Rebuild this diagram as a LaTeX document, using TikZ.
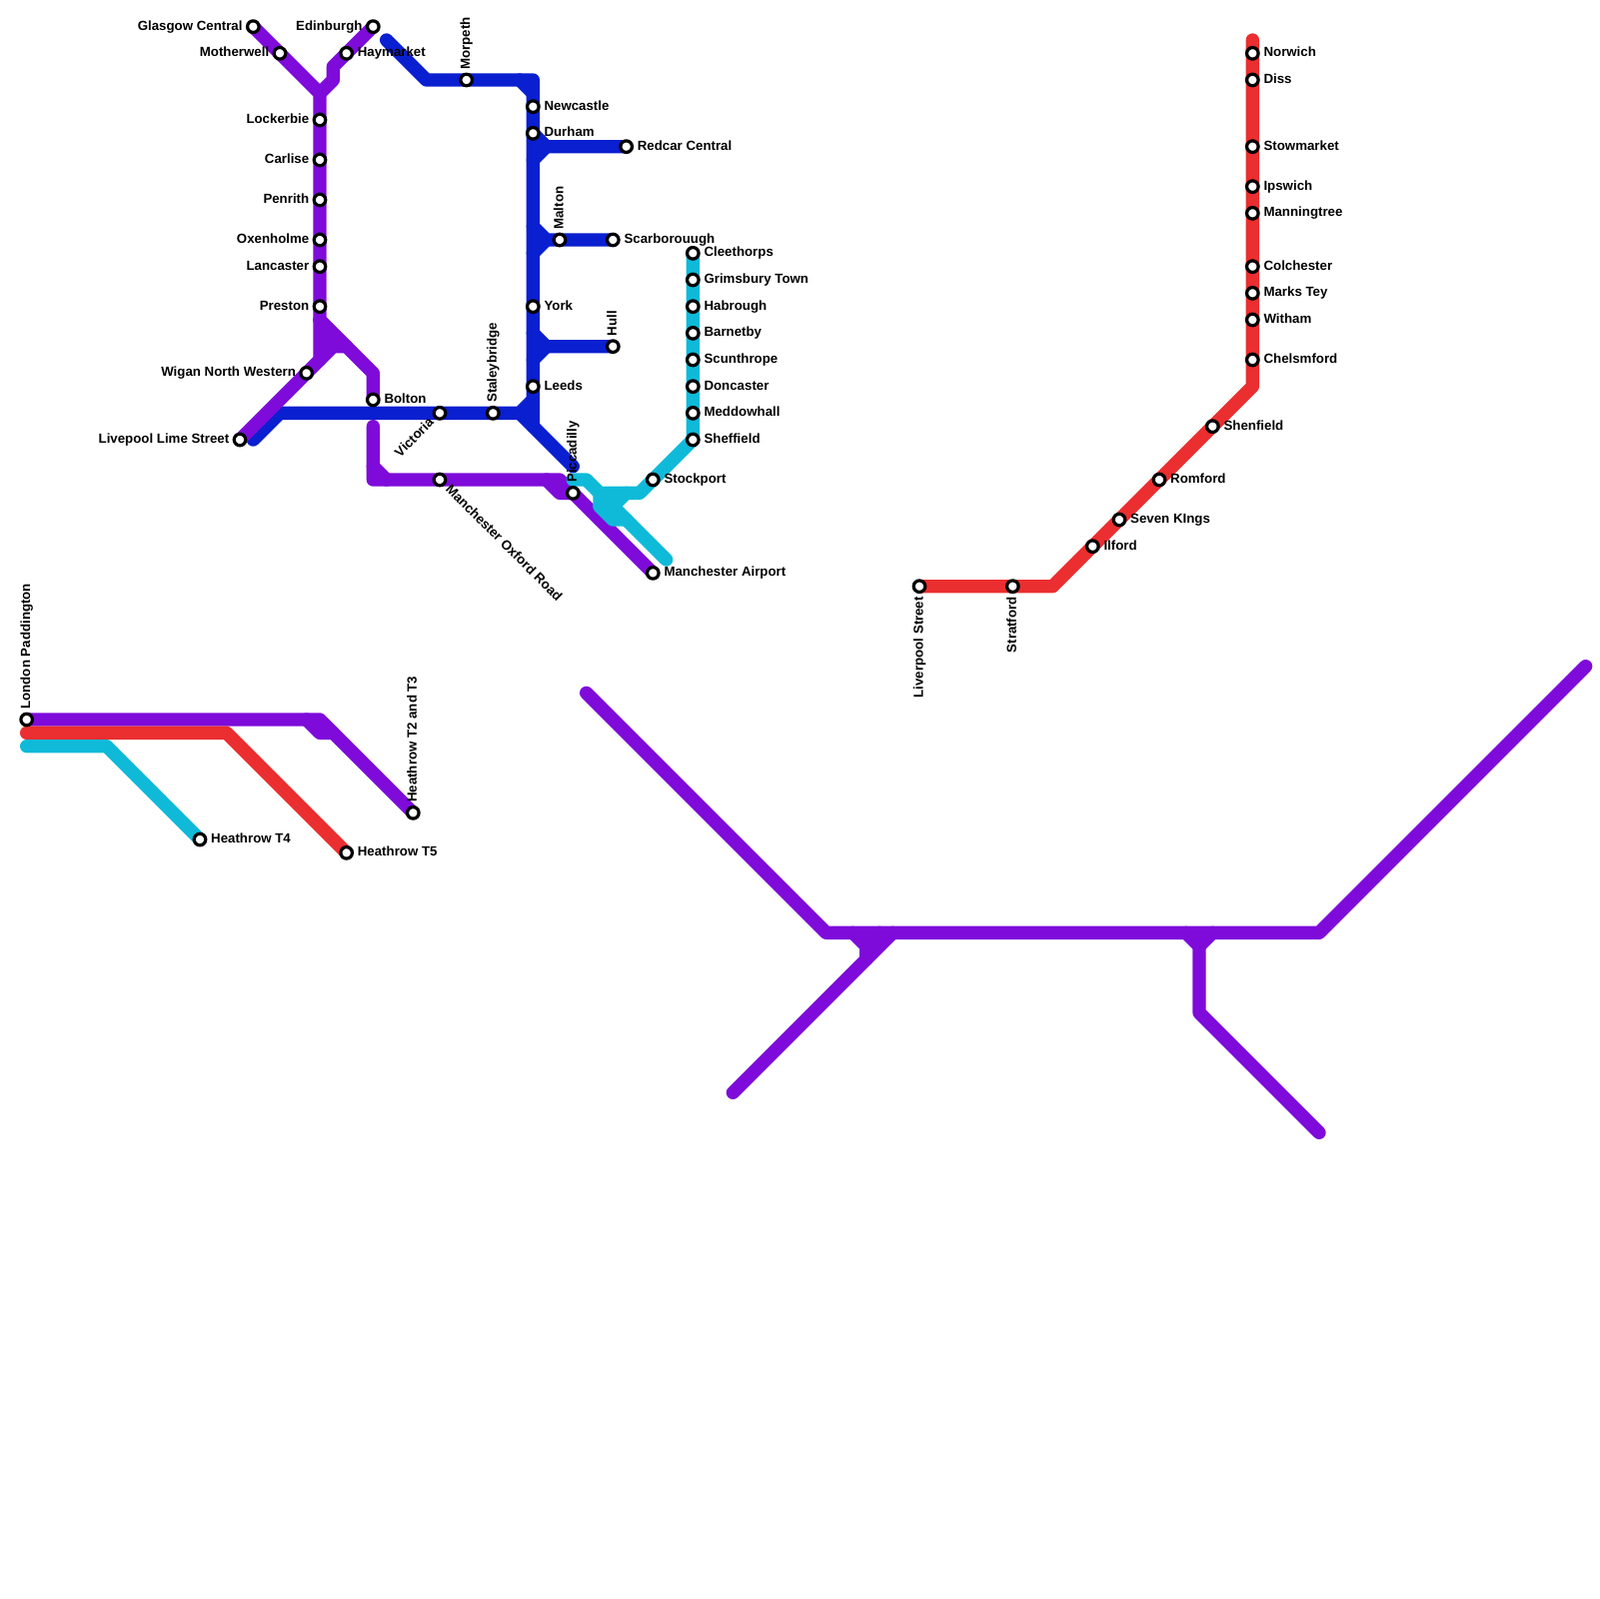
\documentclass[tikz,border=0pt]{standalone}
\usepackage{fontspec}
\setmainfont{Liberation Sans}
\usepackage{xcolor}
\usetikzlibrary{backgrounds}
\definecolor{linepurple}{RGB}{126,11,218}
\definecolor{lineblue}{RGB}{10,31,207}
\definecolor{linered}{RGB}{235,46,48}
\definecolor{linecyan}{RGB}{15,186,217}
\tikzset{
  station/.style={draw=black,fill=white,circle,line width=0.72mm,minimum size=2.6mm,inner sep=0pt,outer sep=0pt},
  stext/.style={font=\fontsize{8.5}{10}\bfseries\selectfont,inner sep=1.15mm,text height=2.1mm,text depth=0.5mm,text=black},
  right label/.style={stext,anchor=west},
  left label/.style={stext,anchor=east,xshift=0.1mm},
  up label/.style={stext,rotate=90,anchor=west,inner sep=1mm},
  down label/.style={stext,rotate=90,anchor=east,inner sep=1mm},
  track/.style={line width=3mm,line cap=round,line join=round},
  purple track/.style={track,linepurple},
  blue track/.style={track,lineblue},
  red track/.style={track,linered},
  cyan track/.style={track,linecyan}
}
\begin{document}
\begin{tikzpicture}[x=3mm,y=-3mm]
\useasboundingbox (0,0) rectangle (120,120);
% north west
\node[station,label={[left label]left:Glasgow Central}] (glasgow) at (19,2) {};
\node[station,label={[left label]left:Motherwell}] (motherwell) at (21,4) {};
\node[station,label={[left label]left:Edinburgh}] (edinburgh) at (28,2) {};
\node[station,label={[right label]right:Haymarket}] (haymarket) at (26,4) {};
\node[station,label={[left label]left:Lockerbie}] (lockerbie) at (24,9) {};
\node[station,label={[left label]left:Carlise}] (carlise) at (24,12) {};
\node[station,label={[left label]left:Penrith}] (penrith) at (24,15) {};
\node[station,label={[left label]left:Oxenholme}] (oxenholme) at (24,18) {};
\node[station,label={[left label]left:Lancaster}] (lancaster) at (24,20) {};
\node[station,label={[left label]left:Preston}] (preston) at (24,23) {};
\node[station,label={[left label]left:Wigan North Western}] (wigan) at (23,28) {};
\node[station,label={[left label]left:Livepool Lime Street}] (limestreet) at (18,33) {};
\node[station,label={[right label]right:Bolton}] (bolton) at (28,30) {};
% north east
\node[station,label={[up label]above:Morpeth}] (morpeth) at (35,6) {};
\node[station,label={[right label]right:Newcastle}] (newcastle) at (40,8) {};
\node[station,label={[right label]right:Durham}] (durham) at (40,10) {};
\node[station,label={[right label]right:Redcar Central}] (redcar) at (47,11) {};
\node[station,label={[up label]above:Malton}] (malton) at (42,18) {};
\node[station,label={[right label]right:Scarborouugh}] (scarborough) at (46,18) {};
\node[station,label={[right label]right:York}] (york) at (40,23) {};
\node[station,label={[up label]above:Hull}] (hull) at (46,26) {};
\node[station,label={[right label]right:Leeds}] (leeds) at (40,29) {};
\node[station,label={[stext,rotate=45,anchor=east]225:Victoria}] (victoria) at (33,31) {};
\node[station,label={[up label]above:Staleybridge}] (staleybridge) at (37,31) {};
% manchester
\node[station,label={[stext,rotate=-45,anchor=west]-45:Manchester Oxford Road}] (oxfordroad) at (33,36) {};
\node[station,label={[up label]above:Piccadilly}] (piccadilly) at (43,37) {};
\node[station,label={[right label]right:Manchester Airport}] (airport) at (49,43) {};
\node[station,label={[right label]right:Stockport}] (stockport) at (49,36) {};
\node[station,label={[right label]right:Sheffield}] (sheffield) at (52,33) {};
\node[station,label={[right label]right:Meddowhall}] (meadowhall) at (52,31) {};
\node[station,label={[right label]right:Doncaster}] (doncaster) at (52,29) {};
\node[station,label={[right label]right:Scunthrope}] (scunthorpe) at (52,27) {};
\node[station,label={[right label]right:Barnetby}] (barnetby) at (52,25) {};
\node[station,label={[right label]right:Habrough}] (habrough) at (52,23) {};
\node[station,label={[right label]right:Grimsbury Town}] (grimsby) at (52,21) {};
\node[station,label={[right label]right:Cleethorps}] (cleethorpes) at (52,19) {};
% heathrow
\node[station,label={[up label]above:London Paddington}] (paddington) at (2,54) {};
\node[station,label={[right label]right:Heathrow T4}] (tfour) at (15,63) {};
\node[station,label={[right label]right:Heathrow T5}] (tfive) at (26,64) {};
\node[station,label={[up label]above:Heathrow T2 and T3}] (ttwo) at (31,61) {};
% east
\node[station,label={[down label]below:Liverpool Street}] (liverpoolst) at (69,44) {};
\node[station,label={[down label]below:Stratford}] (stratford) at (76,44) {};
\node[station,label={[right label]right:Ilford}] (ilford) at (82,41) {};
\node[station,label={[right label]right:Seven KIngs}] (sevenkings) at (84,39) {};
\node[station,label={[right label]right:Romford}] (romford) at (87,36) {};
\node[station,label={[right label]right:Shenfield}] (shenfield) at (91,32) {};
\node[station,label={[right label]right:Chelsmford}] (chelmsford) at (94,27) {};
\node[station,label={[right label]right:Witham}] (witham) at (94,24) {};
\node[station,label={[right label]right:Marks Tey}] (markstey) at (94,22) {};
\node[station,label={[right label]right:Colchester}] (colchester) at (94,20) {};
\node[station,label={[right label]right:Manningtree}] (manningtree) at (94,16) {};
\node[station,label={[right label]right:Ipswich}] (ipswich) at (94,14) {};
\node[station,label={[right label]right:Stowmarket}] (stowmarket) at (94,11) {};
\node[station,label={[right label]right:Diss}] (diss) at (94,6) {};
\node[station,label={[right label]right:Norwich}] (norwich) at (94,4) {};
% bends
\coordinate (pn-a) at (24,7);
\coordinate (pn-b) at (25,6);
\coordinate (pn-c) at (25,5);
\coordinate (pn-d) at (24,27);
\coordinate (pn-e) at (24,24);
\coordinate (pn-f) at (28,28);
\coordinate (pn-g) at (25,26);
\coordinate (pn-h) at (26,26);
\coordinate (pm-a) at (28,32);
\coordinate (pm-b) at (28,36);
\coordinate (pm-c) at (42,36);
\coordinate (pm-d) at (28,35);
\coordinate (pm-e) at (29,36);
\coordinate (pm-f) at (41,36);
\coordinate (pm-g) at (42,37);
\coordinate (bn-a) at (29,3);
\coordinate (bn-b) at (32,6);
\coordinate (bn-c) at (39,6);
\coordinate (bn-d) at (40,6);
\coordinate (bn-e) at (40,7);
\coordinate (bn-f) at (40,30);
\coordinate (bn-g) at (40,32);
\coordinate (br-a) at (41,11);
\coordinate (br-b) at (40,12);
\coordinate (br-c) at (40,17);
\coordinate (br-d) at (41,18);
\coordinate (br-e) at (40,19);
\coordinate (br-f) at (40,25);
\coordinate (br-g) at (41,26);
\coordinate (br-h) at (40,27);
\coordinate (bs-a) at (19,33);
\coordinate (bs-b) at (21,31);
\coordinate (bs-c) at (39,31);
\coordinate (bs-d) at (43,35);
\coordinate (cy-a) at (48,37);
\coordinate (cy-b) at (47,37);
\coordinate (cy-c) at (45,37);
\coordinate (cy-d) at (44,36);
\coordinate (cy-e) at (43,36);
\coordinate (cy-f) at (45,38);
\coordinate (cy-g) at (46,39);
\coordinate (cy-h) at (47,39);
\coordinate (cy-i) at (46,38);
\coordinate (cy-j) at (50,42);
\coordinate (hp-a) at (24,54);
\coordinate (hp-b) at (23,54);
\coordinate (hp-c) at (24,55);
\coordinate (hp-d) at (25,55);
\coordinate (hr-a) at (2,55);
\coordinate (hr-b) at (17,55);
\coordinate (hc-a) at (2,56);
\coordinate (hc-b) at (8,56);
\coordinate (rd-a) at (94,3);
\coordinate (rd-b) at (94,29);
\coordinate (rd-c) at (79,44);
\coordinate (bp-a) at (44,52);
\coordinate (bp-b) at (62,70);
\coordinate (bp-c) at (64,70);
\coordinate (bp-d) at (65,71);
\coordinate (bp-e) at (65,72);
\coordinate (bp-f) at (55,82);
\coordinate (bp-g) at (67,70);
\coordinate (bp-h) at (66,70);
\coordinate (bp-i) at (89,70);
\coordinate (bp-j) at (90,71);
\coordinate (bp-k) at (91,70);
\coordinate (bp-l) at (99,70);
\coordinate (bp-m) at (119,50);
\coordinate (bp-n) at (90,76);
\coordinate (bp-o) at (99,85);
\begin{pgfonlayer}{background}
% blue
\draw[blue track] (bn-a) -- (bn-b) -- (morpeth.center) -- (bn-c) -- (bn-d) -- (bn-e) -- (newcastle.center) -- (durham.center) -- (york.center) -- (leeds.center) -- (bn-g);
\draw[blue track] (bn-c) -- (bn-e);
\draw[blue track] (durham.center) -- (br-a) -- (redcar.center);
\draw[blue track] (br-b) -- (br-a);
\draw[blue track] (br-c) -- (br-d) -- (malton.center) -- (scarborough.center);
\draw[blue track] (br-e) -- (br-d);
\draw[blue track] (br-f) -- (br-g) -- (hull.center);
\draw[blue track] (br-h) -- (br-g);
\draw[blue track] (bs-a) -- (bs-b) -- (victoria.center) -- (staleybridge.center) -- (bs-c) -- (bn-f);
\draw[blue track] (bs-c) -- (bs-d);
% purple
\draw[purple track] (glasgow.center) -- (motherwell.center) -- (pn-a) -- (lockerbie.center) -- (carlise.center) -- (penrith.center) -- (oxenholme.center) -- (lancaster.center) -- (preston.center) -- (pn-d);
\draw[purple track] (edinburgh.center) -- (haymarket.center) -- (pn-c) -- (pn-b) -- (pn-a);
\draw[purple track] (pn-e) -- (pn-f) -- (bolton.center);
\draw[purple track] (pn-e) -- (pn-g);
\draw[purple track] (limestreet.center) -- (wigan.center) -- (pn-g) -- (pn-h);
\draw[purple track] (pm-a) -- (pm-b) -- (oxfordroad.center) -- (pm-c) -- (piccadilly.center) -- (airport.center);
\draw[purple track] (pm-d) -- (pm-e);
\draw[purple track] (pm-f) -- (pm-g) -- (piccadilly.center);
\draw[purple track] (paddington.center) -- (hp-a) -- (ttwo.center);
\draw[purple track] (hp-b) -- (hp-c) -- (hp-d);
\draw[purple track] (bp-a) -- (bp-b) -- (bp-c) -- (bp-g) -- (bp-i) -- (bp-k) -- (bp-l) -- (bp-m);
\draw[purple track] (bp-c) -- (bp-d) -- (bp-e);
\draw[purple track] (bp-g) -- (bp-e) -- (bp-f);
\draw[purple track] (bp-h) -- (bp-d);
\draw[purple track] (bp-i) -- (bp-j) -- (bp-n) -- (bp-o);
\draw[purple track] (bp-k) -- (bp-j);
% red
\draw[red track] (hr-a) -- (hr-b) -- (tfive.center);
\draw[red track] (rd-a) -- (norwich.center) -- (diss.center) -- (stowmarket.center) -- (ipswich.center) -- (manningtree.center) -- (colchester.center) -- (markstey.center) -- (witham.center) -- (chelmsford.center) -- (rd-b) -- (shenfield.center) -- (romford.center) -- (sevenkings.center) -- (ilford.center) -- (rd-c) -- (stratford.center) -- (liverpoolst.center);
% cyan
\draw[cyan track] (hc-a) -- (hc-b) -- (tfour.center);
\draw[cyan track] (cleethorpes.center) -- (grimsby.center) -- (habrough.center) -- (barnetby.center) -- (scunthorpe.center) -- (doncaster.center) -- (meadowhall.center) -- (sheffield.center) -- (stockport.center) -- (cy-a) -- (cy-b) -- (cy-c) -- (cy-d) -- (cy-e);
\draw[cyan track] (cy-c) -- (cy-f) -- (cy-g) -- (cy-h);
\draw[cyan track] (cy-b) -- (cy-i) -- (cy-h) -- (cy-j);
\draw[cyan track] (cy-c) -- (cy-i);
\draw[cyan track] (cy-f) -- (cy-i);
\end{pgfonlayer}
\end{tikzpicture}
\end{document}
